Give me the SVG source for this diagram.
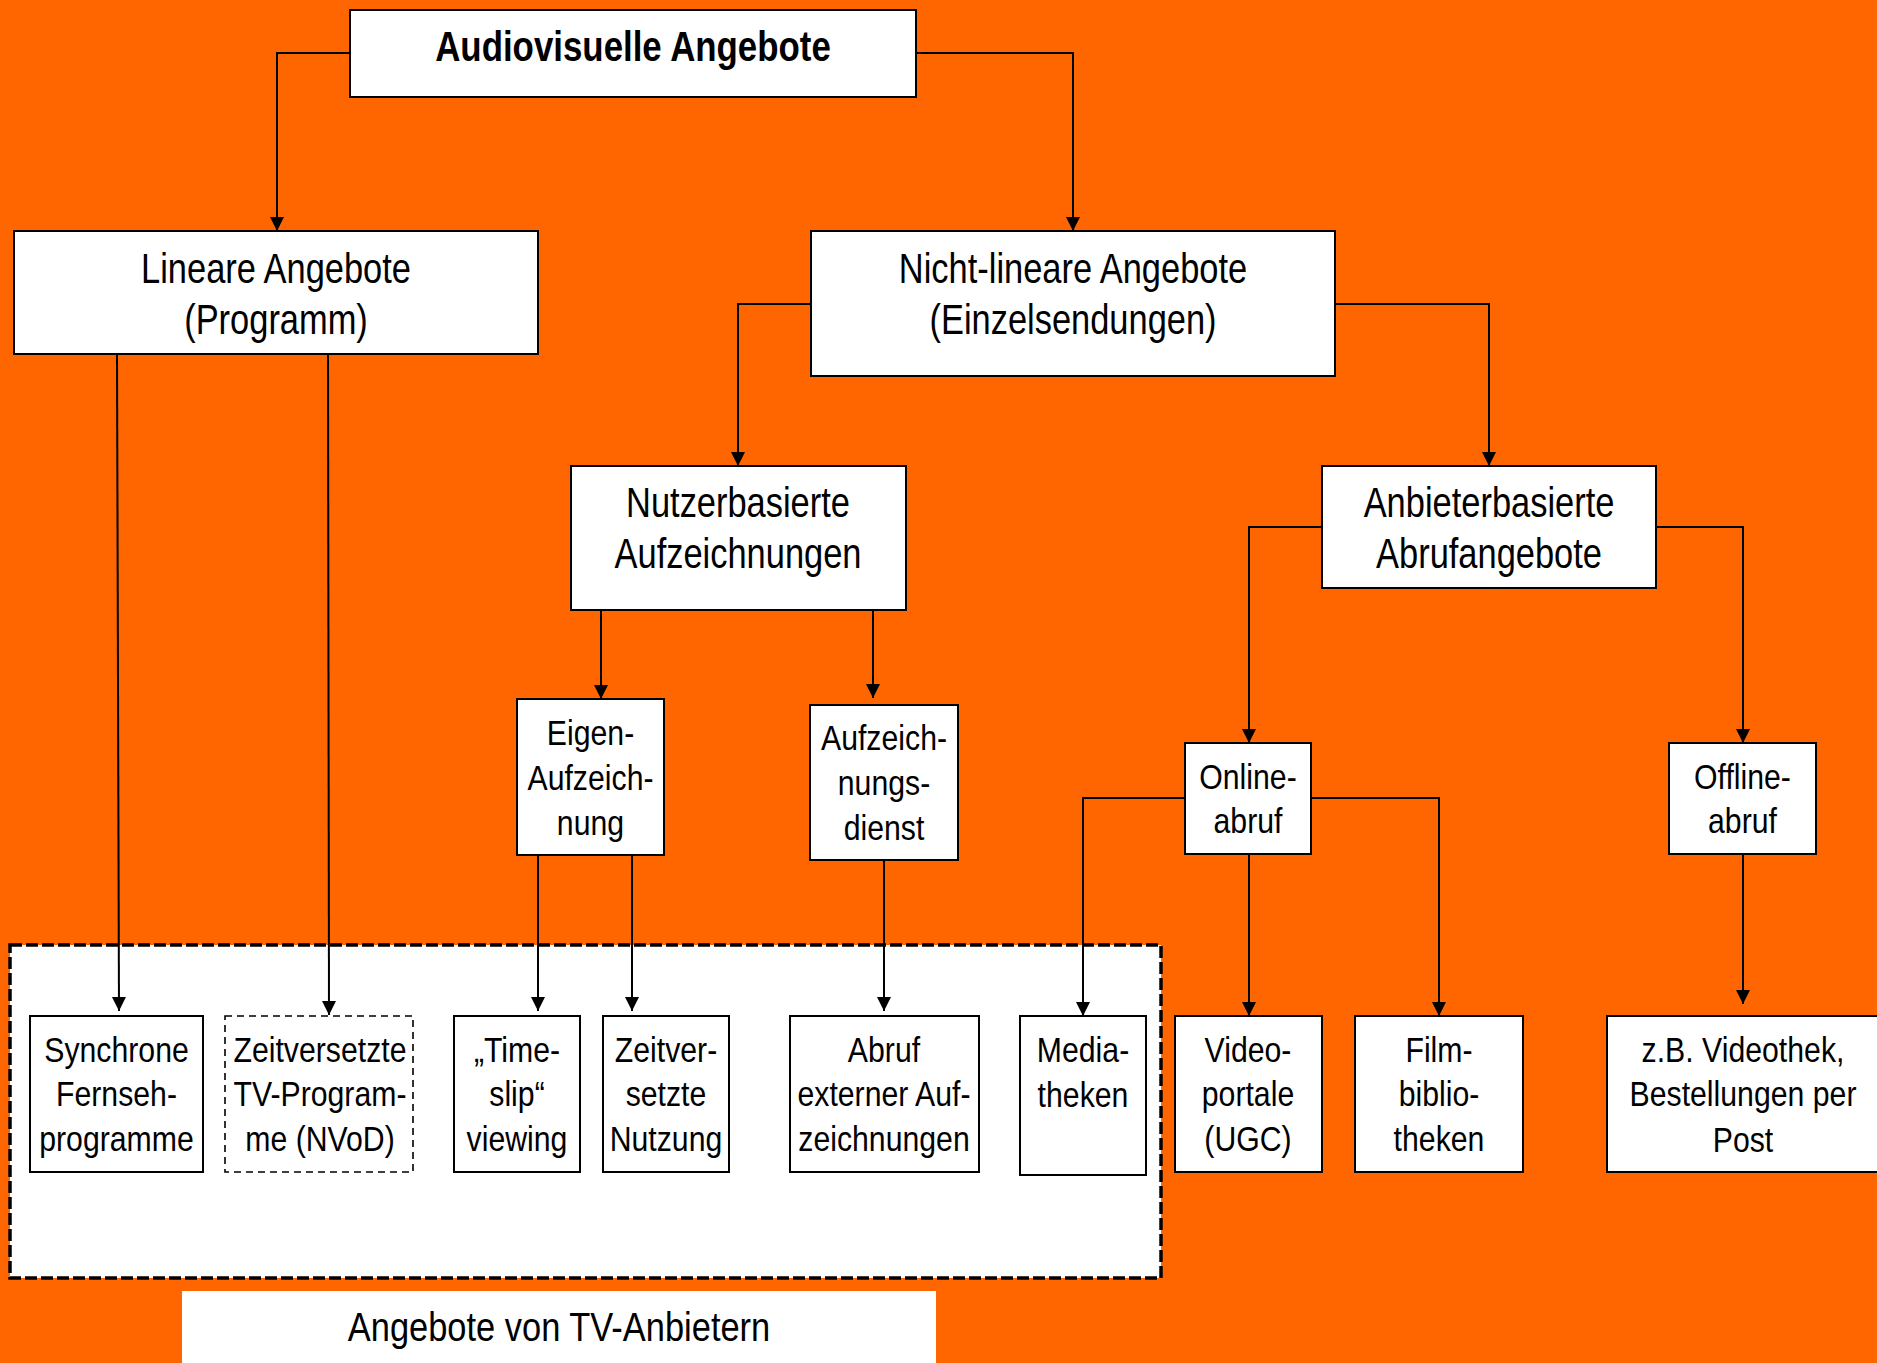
<svg xmlns="http://www.w3.org/2000/svg" width="1877" height="1363" viewBox="0 0 1877 1363">
<style>
.box{fill:#fff;stroke:#000;stroke-width:2}
.dbox{fill:#fff;stroke:#000;stroke-width:1.6;stroke-dasharray:7 5}
.cont{fill:#fff;stroke:#000;stroke-width:3.5;stroke-dasharray:12 4}
.conn{fill:none;stroke:#000;stroke-width:2}
.t{font-family:"Liberation Sans",Arial,sans-serif;text-anchor:middle;fill:#000}
.big{font-size:42px}
.sm{font-size:36px}
.b{font-weight:bold}
</style>
<defs>
<marker id="arr" markerUnits="userSpaceOnUse" markerWidth="16" markerHeight="16" refX="14" refY="7" orient="auto">
<path d="M0,0 L14,7 L0,14 z" fill="#000"/>
</marker>
</defs>
<rect x="0" y="0" width="1877" height="1363" fill="#FF6600"/>
<g id="container">
<rect class="cont" x="10" y="945" width="1151" height="333"/>
</g>
<g id="label">
<rect x="182" y="1291" width="754" height="80" fill="#fff"/>
<text class="t" style="font-size:41px" transform="translate(559,0) scale(0.84,1)" x="0" y="1341">Angebote von TV-Anbietern</text>
</g>
<g id="connectors" class="conn" marker-end="url(#arr)">
<path class="conn" d="M350,53 H277 V231" marker-end="url(#arr)"/>
<path class="conn" d="M916,53 H1073 V231" marker-end="url(#arr)"/>
<path class="conn" d="M811,304 H738 V466" marker-end="url(#arr)"/>
<path class="conn" d="M1335,304 H1489 V466" marker-end="url(#arr)"/>
<path class="conn" d="M117,354 L119,1011" marker-end="url(#arr)"/>
<path class="conn" d="M328,354 L329,1015" marker-end="url(#arr)"/>
<path class="conn" d="M601,610 V699" marker-end="url(#arr)"/>
<path class="conn" d="M873,610 V698" marker-end="url(#arr)"/>
<path class="conn" d="M538,855 V1011" marker-end="url(#arr)"/>
<path class="conn" d="M632,855 V1011" marker-end="url(#arr)"/>
<path class="conn" d="M884,860 V1011" marker-end="url(#arr)"/>
<path class="conn" d="M1322,527 H1249 V743" marker-end="url(#arr)"/>
<path class="conn" d="M1656,527 H1743 V743" marker-end="url(#arr)"/>
<path class="conn" d="M1185,798 H1083 V1016" marker-end="url(#arr)"/>
<path class="conn" d="M1249,854 V1016" marker-end="url(#arr)"/>
<path class="conn" d="M1311,798 H1439 V1016" marker-end="url(#arr)"/>
<path class="conn" d="M1743,854 V1004" marker-end="url(#arr)"/>
</g>
<g id="n-audiovisuell">
<rect class="box" x="350" y="10" width="566" height="87"/>
<text class="t big b" transform="translate(633,0) scale(0.83,1)" x="0" y="61">Audiovisuelle Angebote</text>
</g>
<g id="n-linear">
<rect class="box" x="14" y="231" width="524" height="123"/>
<text class="t big" transform="translate(276,0) scale(0.82,1)"><tspan x="0" y="283">Lineare Angebote</tspan><tspan x="0" y="334">(Programm)</tspan></text>
</g>
<g id="n-nichtlinear">
<rect class="box" x="811" y="231" width="524" height="145"/>
<text class="t big" transform="translate(1073,0) scale(0.82,1)"><tspan x="0" y="283">Nicht-lineare Angebote</tspan><tspan x="0" y="334">(Einzelsendungen)</tspan></text>
</g>
<g id="n-nutzer">
<rect class="box" x="571" y="466" width="335" height="144"/>
<text class="t big" transform="translate(738,0) scale(0.82,1)"><tspan x="0" y="517">Nutzerbasierte</tspan><tspan x="0" y="568">Aufzeichnungen</tspan></text>
</g>
<g id="n-anbieter">
<rect class="box" x="1322" y="466" width="334" height="122"/>
<text class="t big" transform="translate(1489,0) scale(0.82,1)"><tspan x="0" y="517">Anbieterbasierte</tspan><tspan x="0" y="568">Abrufangebote</tspan></text>
</g>
<g id="n-eigen">
<rect class="box" x="517" y="699" width="147" height="156"/>
<text class="t sm" transform="translate(590.5,0) scale(0.84,1)"><tspan x="0" y="745">Eigen-</tspan><tspan x="0" y="790">Aufzeich-</tspan><tspan x="0" y="835">nung</tspan></text>
</g>
<g id="n-aufzeichdienst">
<rect class="box" x="810" y="705" width="148" height="155"/>
<text class="t sm" transform="translate(884,0) scale(0.84,1)"><tspan x="0" y="750">Aufzeich-</tspan><tspan x="0" y="795">nungs-</tspan><tspan x="0" y="840">dienst</tspan></text>
</g>
<g id="n-online">
<rect class="box" x="1185" y="743" width="126" height="111"/>
<text class="t sm" transform="translate(1248,0) scale(0.84,1)"><tspan x="0" y="789">Online-</tspan><tspan x="0" y="833">abruf</tspan></text>
</g>
<g id="n-offline">
<rect class="box" x="1669" y="743" width="147" height="111"/>
<text class="t sm" transform="translate(1742.5,0) scale(0.84,1)"><tspan x="0" y="789">Offline-</tspan><tspan x="0" y="833">abruf</tspan></text>
</g>
<g id="n-synchron">
<rect class="box" x="30" y="1016" width="173" height="156"/>
<text class="t sm" transform="translate(116.5,0) scale(0.84,1)"><tspan x="0" y="1062">Synchrone</tspan><tspan x="0" y="1106">Fernseh-</tspan><tspan x="0" y="1151">programme</tspan></text>
</g>
<g id="n-zeitversetzt-tv">
<rect class="dbox" x="225" y="1016" width="188" height="156"/>
<text class="t sm" transform="translate(320,0) scale(0.84,1)"><tspan x="0" y="1062">Zeitversetzte</tspan><tspan x="0" y="1106">TV-Program-</tspan><tspan x="0" y="1151">me (NVoD)</tspan></text>
</g>
<g id="n-timeslip">
<rect class="box" x="454" y="1016" width="126" height="156"/>
<text class="t sm" transform="translate(517,0) scale(0.84,1)"><tspan x="0" y="1062">„Time-</tspan><tspan x="0" y="1106">slip“</tspan><tspan x="0" y="1151">viewing</tspan></text>
</g>
<g id="n-zeitversetzt-nutzung">
<rect class="box" x="603" y="1016" width="126" height="156"/>
<text class="t sm" transform="translate(666,0) scale(0.84,1)"><tspan x="0" y="1062">Zeitver-</tspan><tspan x="0" y="1106">setzte</tspan><tspan x="0" y="1151">Nutzung</tspan></text>
</g>
<g id="n-abruf-extern">
<rect class="box" x="790" y="1016" width="189" height="156"/>
<text class="t sm" transform="translate(884,0) scale(0.84,1)"><tspan x="0" y="1062">Abruf</tspan><tspan x="0" y="1106">externer Auf-</tspan><tspan x="0" y="1151">zeichnungen</tspan></text>
</g>
<g id="n-mediatheken">
<rect class="box" x="1020" y="1016" width="126" height="159"/>
<text class="t sm" transform="translate(1083,0) scale(0.84,1)"><tspan x="0" y="1062">Media-</tspan><tspan x="0" y="1107">theken</tspan></text>
</g>
<g id="n-videoportale">
<rect class="box" x="1175" y="1016" width="147" height="156"/>
<text class="t sm" transform="translate(1248,0) scale(0.84,1)"><tspan x="0" y="1062">Video-</tspan><tspan x="0" y="1106">portale</tspan><tspan x="0" y="1151">(UGC)</tspan></text>
</g>
<g id="n-filmbibliotheken">
<rect class="box" x="1355" y="1016" width="168" height="156"/>
<text class="t sm" transform="translate(1439,0) scale(0.84,1)"><tspan x="0" y="1062">Film-</tspan><tspan x="0" y="1106">biblio-</tspan><tspan x="0" y="1151">theken</tspan></text>
</g>
<g id="n-videothek">
<rect class="box" x="1607" y="1016" width="275" height="156"/>
<text class="t sm" transform="translate(1743,0) scale(0.84,1)"><tspan x="0" y="1062">z.B. Videothek,</tspan><tspan x="0" y="1106">Bestellungen per</tspan><tspan x="0" y="1152">Post</tspan></text>
</g>
</svg>
